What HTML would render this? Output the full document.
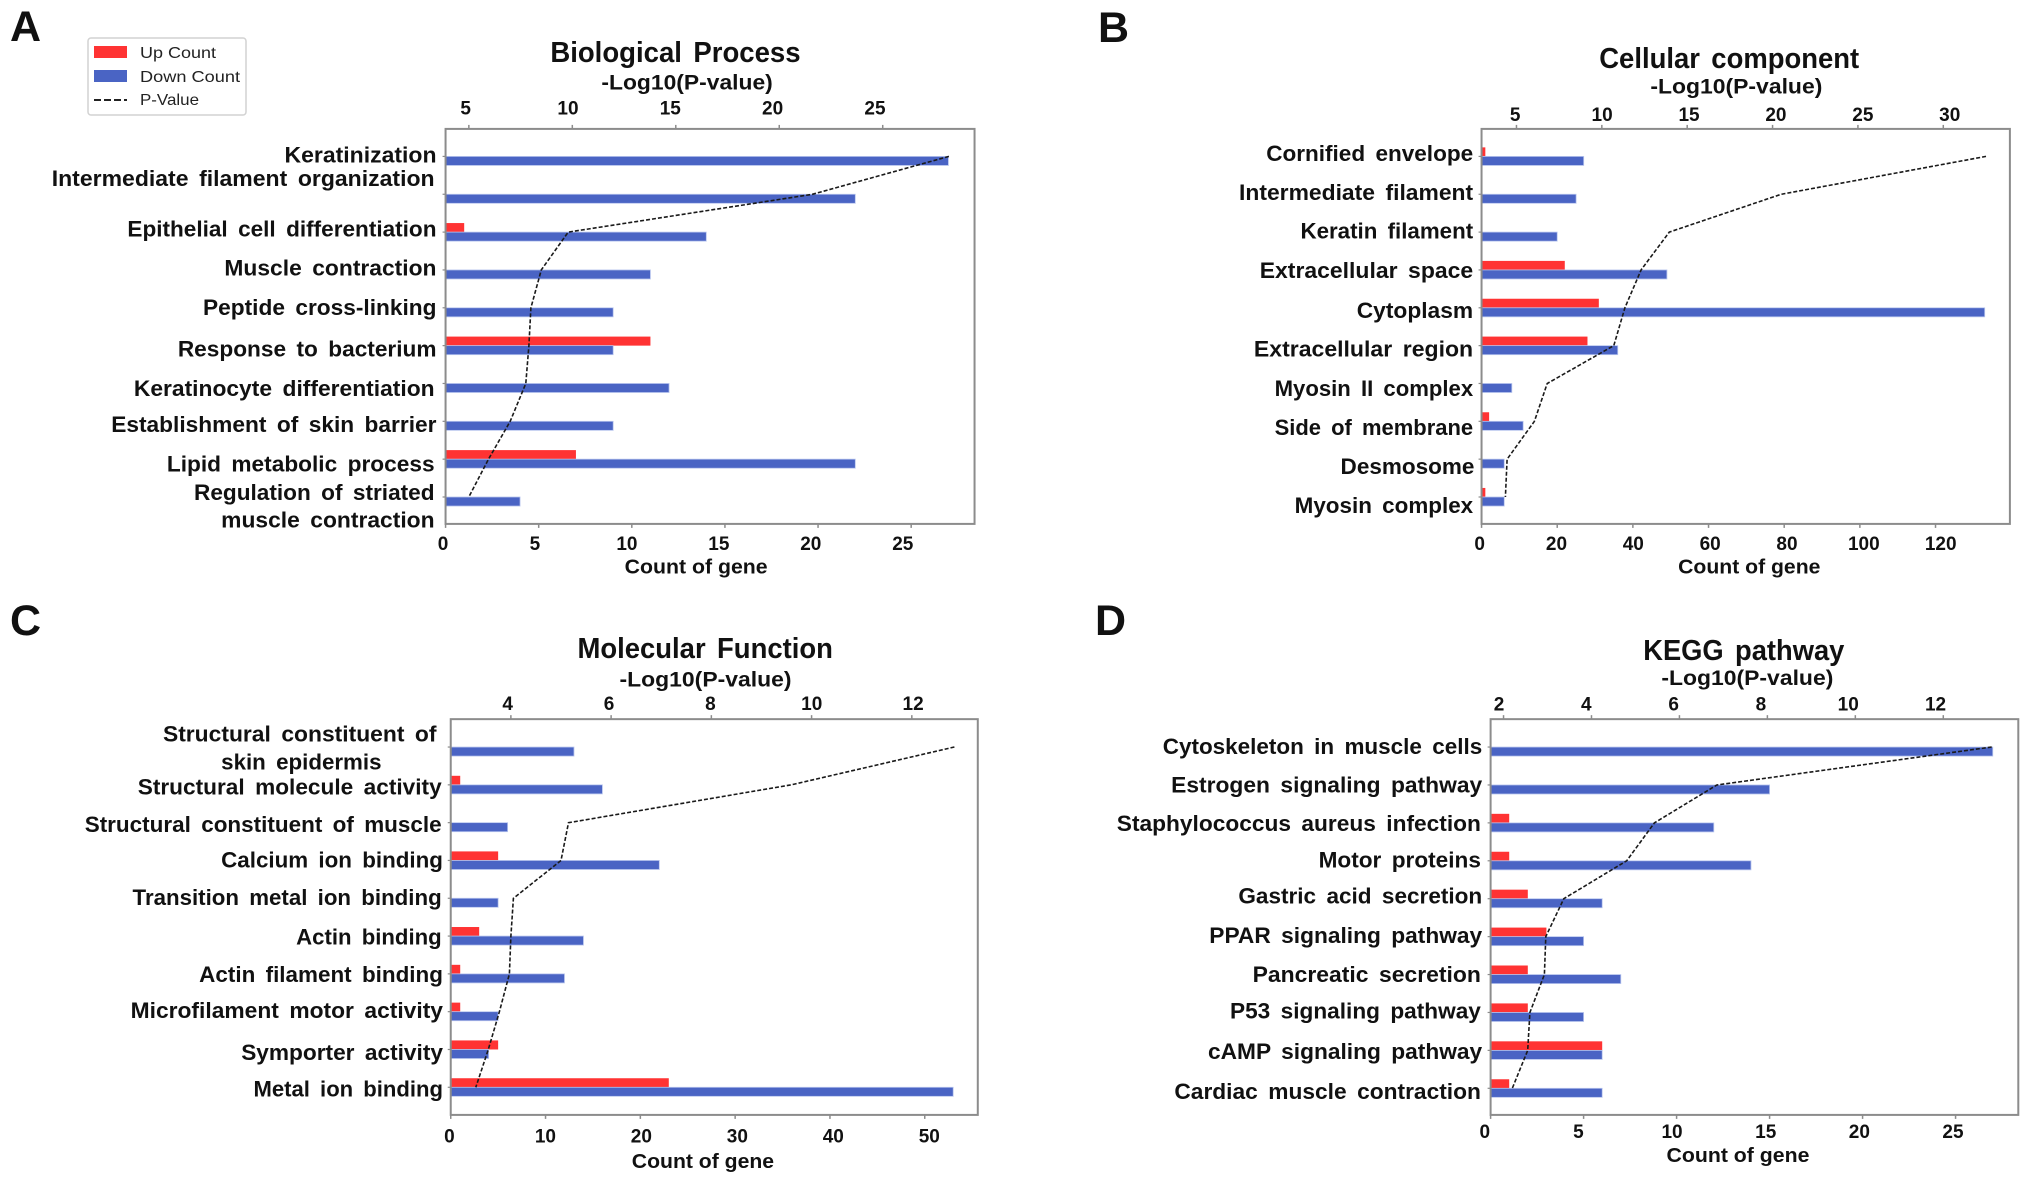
<!DOCTYPE html>
<html lang="en">
<head>
<meta charset="utf-8">
<title>GO and KEGG enrichment charts</title>
<style>
  html, body { margin: 0; padding: 0; background: #fff; }
  svg { display: block; font-family: "Liberation Sans", Arial, sans-serif; }
  .b { font-weight: bold; fill: #111; }
</style>
</head>
<body>
<svg id="figure" width="2028" height="1182" viewBox="0 0 2028 1182" xmlns="http://www.w3.org/2000/svg">
  <rect x="0" y="0" width="2028" height="1182" fill="#fff"/>
  <text class="b" x="10" y="41" font-size="43">A</text>
  <text class="b" x="1098" y="42" font-size="43">B</text>
  <text class="b" x="10" y="635" font-size="43">C</text>
  <text class="b" x="1095" y="635" font-size="43">D</text>
  <g>
    <rect x="88" y="38" width="158" height="77" rx="3" fill="#fff" stroke="#d2d2d2" stroke-width="1.5"/>
    <rect x="94" y="46" width="33" height="12" fill="#ff3333"/>
    <text x="140" y="58" font-size="16" textLength="76" lengthAdjust="spacingAndGlyphs" fill="#222">Up Count</text>
    <rect x="94" y="70" width="33" height="12" fill="#4a64c4"/>
    <text x="140" y="82" font-size="16" textLength="100" lengthAdjust="spacingAndGlyphs" fill="#222">Down Count</text>
    <line x1="94" y1="100" x2="127" y2="100" stroke="#222" stroke-width="2" stroke-dasharray="7 3"/>
    <text x="140" y="105" font-size="16" textLength="59" lengthAdjust="spacingAndGlyphs" fill="#222">P-Value</text>
  </g>
</svg>
<script>
// ---- Biological Process ----
const bpCategories = ["Keratinization", "Intermediate filament organization", "Epithelial cell differentiation", "Muscle contraction", "Peptide cross-linking", "Response to bacterium", "Keratinocyte differentiation", "Establishment of skin barrier", "Lipid metabolic process", "Regulation of striated muscle contraction"];
const bpUp = [0, 0, 1, 0, 0, 11, 0, 0, 7, 0];
const bpDown = [27, 22, 14, 11, 9, 9, 12, 9, 22, 4];
const bpLogP = [28.2, 21.6, 9.8, 8.5, 8.0, 7.9, 7.75, 7.0, 5.95, 5.0];
const bpCountTicks = [0, 5, 10, 15, 20, 25];
const bpLogTicks = [5, 10, 15, 20, 25];

// ---- Cellular component ----
const ccCategories = ["Cornified envelope", "Intermediate filament", "Keratin filament", "Extracellular space", "Cytoplasm", "Extracellular region", "Myosin II complex", "Side of membrane", "Desmosome", "Myosin complex"];
const ccUp = [1, 0, 0, 22, 31, 28, 0, 2, 0, 1];
const ccDown = [27, 25, 20, 49, 133, 36, 8, 11, 6, 6];
const ccLogP = [32.5, 20.5, 13.95, 12.3, 11.35, 10.7, 6.8, 6.05, 4.45, 4.35];
const ccCountTicks = [0, 20, 40, 60, 80, 100, 120];
const ccLogTicks = [5, 10, 15, 20, 25, 30];

// ---- Molecular Function ----
const mfCategories = ["Structural constituent of skin epidermis", "Structural molecule activity", "Structural constituent of muscle", "Calcium ion binding", "Transition metal ion binding", "Actin binding", "Actin filament binding", "Microfilament motor activity", "Symporter activity", "Metal ion binding"];
const mfUp = [0, 1, 0, 5, 0, 3, 1, 1, 5, 23];
const mfDown = [13, 16, 6, 22, 5, 14, 12, 5, 4, 53];
const mfLogP = [12.85, 9.6, 5.15, 5.0, 4.05, 4.0, 3.97, 3.77, 3.55, 3.3];
const mfCountTicks = [0, 10, 20, 30, 40, 50];
const mfLogTicks = [4, 6, 8, 10, 12];

// ---- KEGG pathway ----
const kpCategories = ["Cytoskeleton in muscle cells", "Estrogen signaling pathway", "Staphylococcus aureus infection", "Motor proteins", "Gastric acid secretion", "PPAR signaling pathway", "Pancreatic secretion", "P53 signaling pathway", "cAMP signaling pathway", "Cardiac muscle contraction"];
const kpUp = [0, 0, 1, 1, 2, 3, 2, 2, 6, 1];
const kpDown = [27, 15, 12, 14, 6, 5, 7, 5, 6, 6];
const kpLogP = [13.1, 6.85, 5.43, 4.8, 3.37, 2.96, 2.93, 2.6, 2.55, 2.2];
const kpCountTicks = [0, 5, 10, 15, 20, 25];
const kpLogTicks = [2, 4, 6, 8, 10, 12];

// Layout only (measured in quadrant units; one quadrant is 1568 x 1568 units).
const UX = 1014 / 1568, UY = 591 / 1568;
const NS = "http://www.w3.org/2000/svg";
const svg = document.getElementById("figure");

const layoutA = { ox: 0, oy: 0, l: 689, r: 1507, t: 342, b: 1390, perCount: 28.8, logRef: 725, logRefVal: 5, perLog: 32, cy0: 415, step: 100.4,
  title: [851, 1238, 137], logTitle: [930, 1195, 217], countTitle: [966, 1187, 1503], topY: 285, botY: 1440, topNudge: [-5, -12], botNudge: [-4, -13],
  labels: [[440, 675, 410], [80, 672, 472], [197, 675, 606], [347, 675, 710], [314, 675, 815], [275, 675, 925], [207, 672, 1030], [172, 675, 1125], [258, 672, 1230], [300, 672, 1305, 342, 672, 1378]] };
const layoutB = { ox: 1014, oy: 0, l: 723, r: 1540, t: 342, b: 1390, perCount: 5.85, logRef: 777, logRefVal: 5, perLog: 26.4, cy0: 415, step: 100.4,
  title: [905, 1307, 152], logTitle: [984, 1250, 228], countTitle: [1027, 1247, 1503], topY: 303, botY: 1440, topNudge: [-2, 10], botNudge: [-3, 8],
  labels: [[390, 710, 406], [348, 710, 510], [443, 710, 612], [380, 710, 717], [530, 710, 822], [371, 710, 925], [403, 710, 1030], [403, 710, 1133], [505, 712, 1237], [434, 710, 1340]] };
const layoutC = { ox: 0, oy: 591, l: 697, r: 1512, t: 340, b: 1390, perCount: 14.66, logRef: 790, logRefVal: 4, perLog: 77.5, cy0: 414, step: 100.3,
  title: [893, 1288, 150], logTitle: [958, 1224, 233], countTitle: [977, 1197, 1512], topY: 297, botY: 1445, topNudge: [-5, 2], botNudge: [-2, 7],
  labels: [[252, 675, 378, 342, 590, 452], [213, 683, 519], [131, 683, 618], [342, 685, 712], [205, 683, 812], [458, 683, 916], [308, 685, 1016], [202, 685, 1112], [373, 685, 1223], [392, 685, 1320]] };
const layoutD = { ox: 1014, oy: 591, l: 737, r: 1553, t: 340, b: 1390, perCount: 28.76, logRef: 757, logRefVal: 2, perLog: 68, cy0: 414, step: 100.6,
  title: [973, 1284, 155], logTitle: [1001, 1267, 230], countTitle: [1009, 1230, 1497], topY: 298, botY: 1433, topNudge: [-7, -12], botNudge: [-9, -4],
  labels: [[230, 724, 411], [243, 724, 513], [159, 722, 615], [471, 722, 712], [347, 724, 808], [302, 724, 913], [369, 722, 1016], [334, 722, 1113], [300, 724, 1220], [248, 722, 1327]] };

function make(tag, attrs, parent) {
  const el = document.createElementNS(NS, tag);
  for (const k in attrs) el.setAttribute(k, attrs[k]);
  parent.appendChild(el);
  return el;
}
function slug(s) {
  return s.toLowerCase().replace(/[^a-z0-9]+/g, "-");
}
function fittedText(str, box, size, parent, gap) {
  const x = box[0], w = box[1] - box[0];
  const el = make("text", { x: x, textLength: w, lengthAdjust: "spacingAndGlyphs", "font-size": size, "word-spacing": gap, "class": "b" }, parent);
  el.textContent = str;
  return el;
}
function nudgeAt(pair, i, n) {
  return pair[0] + (pair[1] - pair[0]) * i / (n - 1);
}

function drawPanel(key, L, titleText, categories, up, down, logP, countTicks, logTicks) {
  const px = z => L.ox + z * UX;
  const py = z => L.oy + z * UY;
  const xCount = v => px(L.l + v * L.perCount);
  const xLog = v => px(L.logRef + (v - L.logRefVal) * L.perLog);
  const yCat = i => py(L.cy0 + i * L.step);
  const barH = 24 * UY;

  const g = make("g", {}, svg);
  
  

  const title = fittedText(titleText, [px(L.title[0]), px(L.title[1])], 29, g, 4);
  title.setAttribute("y", py(L.title[2]) + 10.5);
  
  

  const logTitle = fittedText("-Log10(P-value)", [px(L.logTitle[0]), px(L.logTitle[1])], 21, g, 0);
  logTitle.setAttribute("y", py(L.logTitle[2]) + 7.5);
  
  

  const countTitle = fittedText("Count of gene", [px(L.countTitle[0]), px(L.countTitle[1])], 20, g, 0);
  countTitle.setAttribute("y", py(L.countTitle[2]) + 7);
  
  

  // bars
  categories.forEach((cat, i) => {
    if (up[i] > 0) {
      const r = make("rect", { x: xCount(0), y: yCat(i) - barH, width: xCount(up[i]) - xCount(0), height: barH, fill: "#ff3333" }, g);
      
      
    }
    const d = make("rect", { x: xCount(0), y: yCat(i), width: xCount(down[i]) - xCount(0), height: barH, fill: "#4a64c4", stroke: "#b9c6ee", "stroke-width": 0.8 }, g);
    
    
  });

  // frame
  const frame = make("rect", { x: px(L.l), y: py(L.t), width: px(L.r) - px(L.l), height: py(L.b) - py(L.t), fill: "none", stroke: "#8c8c8c", "stroke-width": 2 }, g);
  
  

  // p-value line
  const pts = logP.map((v, i) => xLog(v).toFixed(1) + "," + yCat(i).toFixed(1)).join(" ");
  const line = make("polyline", { points: pts, fill: "none", stroke: "#1a1a1a", "stroke-width": 1.6, "stroke-dasharray": "4 2" }, g);
  
  

  // bottom axis
  countTicks.forEach((v, i) => {
    const t = make("line", { x1: xCount(v), x2: xCount(v), y1: py(L.b), y2: py(L.b) + 4, stroke: "#8c8c8c", "stroke-width": 1.5 }, g);
    
    
    const lab = make("text", { x: xCount(v) + nudgeAt(L.botNudge, i, countTicks.length) * UX, y: py(L.botY) + 7, "text-anchor": "middle", "font-size": 19, "class": "b" }, g);
    lab.textContent = v;
    
    
  });

  // top axis
  logTicks.forEach((v, i) => {
    const t = make("line", { x1: xLog(v), x2: xLog(v), y1: py(L.t), y2: py(L.t) - 4, stroke: "#8c8c8c", "stroke-width": 1.5 }, g);
    
    
    const lab = make("text", { x: xLog(v) + nudgeAt(L.topNudge, i, logTicks.length) * UX, y: py(L.topY) + 7, "text-anchor": "middle", "font-size": 19, "class": "b" }, g);
    lab.textContent = v;
    
    
  });

  // category labels and ticks
  categories.forEach((cat, i) => {
    const t = make("line", { x1: px(L.l), x2: px(L.l) - 3, y1: yCat(i), y2: yCat(i), stroke: "#8c8c8c", "stroke-width": 1.2 }, g);
    
    
    const box = L.labels[i];
    const lines = box.length > 3 ? splitLabel(cat) : [cat];
    lines.forEach((str, n) => {
      const lab = fittedText(str, [px(box[n * 3]), px(box[n * 3 + 1])], 22, g, 4);
      lab.setAttribute("y", py(box[n * 3 + 2]) + 8);
      
      
    });
  });
}
function splitLabel(cat) {
  if (cat.indexOf("Regulation") === 0) return ["Regulation of striated", "muscle contraction"];
  return ["Structural constituent of", "skin epidermis"];
}

drawPanel("biological-process", layoutA, "Biological Process", bpCategories, bpUp, bpDown, bpLogP, bpCountTicks, bpLogTicks);
drawPanel("cellular-component", layoutB, "Cellular component", ccCategories, ccUp, ccDown, ccLogP, ccCountTicks, ccLogTicks);
drawPanel("molecular-function", layoutC, "Molecular Function", mfCategories, mfUp, mfDown, mfLogP, mfCountTicks, mfLogTicks);
drawPanel("kegg-pathway", layoutD, "KEGG pathway", kpCategories, kpUp, kpDown, kpLogP, kpCountTicks, kpLogTicks);
</script>
</body>
</html>
